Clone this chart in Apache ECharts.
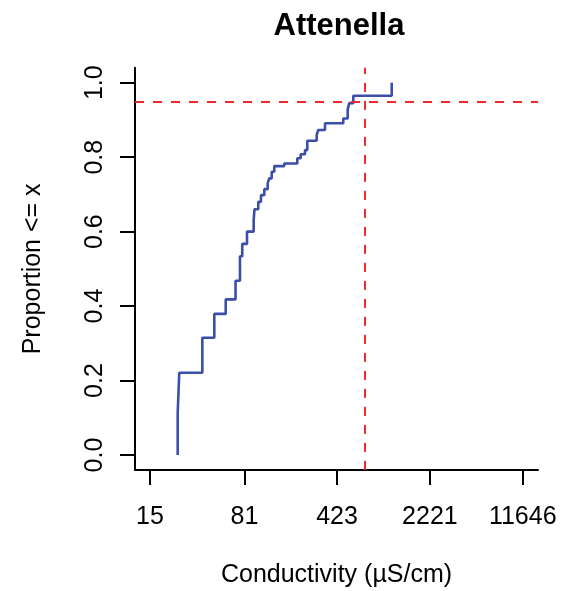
<!DOCTYPE html>
<html>
<head>
<meta charset="utf-8">
<script src="https://cdn.jsdelivr.net/npm/echarts@6/dist/echarts.min.js"></script>
<style>html,body{margin:0;padding:0;background:#fff}#c{width:563px;height:591px}</style>
</head>
<body>
<div id="c"></div>
<script>
const titleText = "Attenella";
const xAxisTitle = "Conductivity (µS/cm)";
const yAxisTitle = "Proportion <= x";
// x tick labels (conductivity, µS/cm)
const xTicks = [15, 81, 423, 2221, 11646];
const yTicks = [0, 0.2, 0.4, 0.6, 0.8, 1.0];
// ECDF: conductivity at each jump, and cumulative proportion after the jump
const jumpConductivity = [24.6, 25.3, 38.2, 47.3, 58.0, 69.1, 74.8, 77.9, 84.8, 95.5, 96.9, 103.7, 108.8, 115.5, 122.7, 126.2, 131.8, 138.0, 165.0, 208.1, 221.1, 238.8, 248.8, 294.2, 302.8, 341.4, 473.2, 511.9, 526.7, 565.6, 1123];
const jumpProportion = [0.112, 0.221, 0.315, 0.379, 0.418, 0.468, 0.534, 0.567, 0.600, 0.631, 0.660, 0.680, 0.698, 0.714, 0.730, 0.743, 0.761, 0.776, 0.783, 0.797, 0.808, 0.819, 0.844, 0.860, 0.873, 0.891, 0.904, 0.929, 0.945, 0.965, 1.000];
// reference lines
const refConductivity = 684.6;
const refProportion = 0.95;
const xRange = [11.48, 15302];

const L = Math.log10;
const stepData = [[L(jumpConductivity[0]), 0]];
jumpConductivity.forEach((c, i) => stepData.push([L(c), jumpProportion[i]]));

const font = "'Liberation Sans', Arial, sans-serif";
const chart = echarts.init(document.getElementById('c'), null, {renderer: 'canvas'});
chart.setOption({
  animation: false,
  backgroundColor: '#fff',
  title: {
    text: titleText, left: 334, top: 6, textAlign: 'center',
    textStyle: {fontFamily: font, fontSize: 31, fontWeight: 'bold', color: '#000'}
  },
  grid: {left: 135, right: 25, top: 67.8, bottom: 121.1, containLabel: false, outerBoundsMode: 'none'},
  xAxis: {
    type: 'value', min: L(xRange[0]), max: L(xRange[1]),
    name: xAxisTitle, nameLocation: 'middle', nameGap: 93,
    nameTextStyle: {fontFamily: font, fontSize: 25, color: '#000'},
    axisLine: {show: true, onZero: false, lineStyle: {color: '#000', width: 2}},
    axisTick: {show: true, length: 15, lineStyle: {color: '#000', width: 2}, customValues: xTicks.map(L)},
    axisLabel: {show: true, margin: 35, fontFamily: font, fontSize: 25, color: '#000',
      customValues: xTicks.map(L), formatter: v => String(Math.round(Math.pow(10, v)))},
    splitLine: {show: false}
  },
  yAxis: {
    type: 'value', min: -0.04, max: 1.04,
    name: yAxisTitle, nameLocation: 'middle', nameGap: 89, nameRotate: 90,
    nameTextStyle: {fontFamily: font, fontSize: 25, color: '#000'},
    axisLine: {show: true, lineStyle: {color: '#000', width: 2}},
    axisTick: {show: true, length: 15, lineStyle: {color: '#000', width: 2}, customValues: yTicks},
    axisLabel: {show: true, rotate: 90, margin: 40, align: 'center', verticalAlign: 'middle',
      fontFamily: font, fontSize: 25, color: '#000', customValues: yTicks,
      formatter: v => v.toFixed(1)},
    splitLine: {show: false}
  },
  series: [{
    type: 'line', step: 'end', data: stepData, showSymbol: false, symbol: 'none',
    lineStyle: {color: '#3A4EAA', width: 2.6},
    markLine: {
      silent: true, symbol: 'none', label: {show: false},
      lineStyle: {color: '#F02A2A', width: 2, type: [9, 9]},
      data: [{xAxis: L(refConductivity)}, {yAxis: refProportion}]
    }
  }]
});
</script>
</body>
</html>
